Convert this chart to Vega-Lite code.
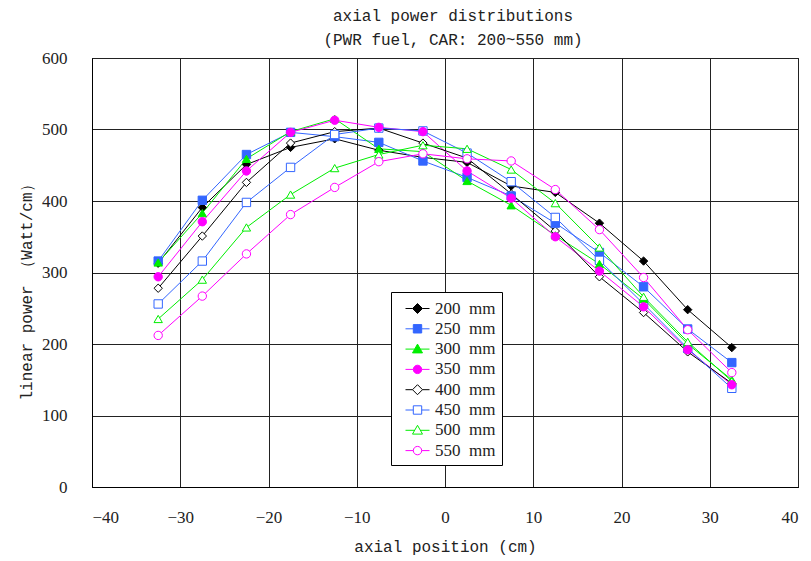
{
  "$schema": "https://vega.github.io/schema/vega-lite/v6.json",
  "width": 706,
  "height": 429,
  "autosize": {"type": "none"},
  "padding": {"left": 92, "top": 58, "right": 13, "bottom": 74},
  "background": "white",
  "title": {
    "text": ["axial power distributions", "(PWR fuel, CAR: 200~550 mm)"],
    "font": "Liberation Mono",
    "fontSize": 16,
    "fontWeight": "normal",
    "color": "#222",
    "lineHeight": 24,
    "anchor": "middle",
    "dx": 8,
    "offset": 1
  },
  "config": {
    "view": {"stroke": "#000", "strokeWidth": 1},
    "axis": {
      "grid": true,
      "gridColor": "#222",
      "gridOpacity": 1,
      "gridWidth": 1,
      "domainColor": "#000",
      "ticks": false,
      "labelFont": "Liberation Serif",
      "labelFontSize": 17,
      "labelColor": "#222",
      "titleFont": "Liberation Mono",
      "titleFontSize": 16,
      "titleFontWeight": "normal",
      "titleColor": "#222"
    },
    "legend": {
      "orient": "none",
      "legendX": 299,
      "legendY": 234,
      "padding": 6,
      "strokeColor": "#000",
      "fillColor": "white",
      "symbolSize": 400,
      "symbolOffset": 10,
      "symbolStrokeWidth": 1,
      "rowPadding": 1.3,
      "labelFont": "Liberation Serif",
      "labelFontSize": 17,
      "labelColor": "#222",
      "labelOffset": 7
    }
  },
  "data": {
    "values": [
      {"x": -32.5, "y": 313, "s": "200 mm"}, {"x": -27.5, "y": 391, "s": "200 mm"}, {"x": -22.5, "y": 451, "s": "200 mm"}, {"x": -17.5, "y": 475, "s": "200 mm"}, {"x": -12.5, "y": 487, "s": "200 mm"}, {"x": -7.5, "y": 471, "s": "200 mm"}, {"x": -2.5, "y": 461, "s": "200 mm"}, {"x": 2.5, "y": 454, "s": "200 mm"}, {"x": 7.5, "y": 421, "s": "200 mm"}, {"x": 12.5, "y": 412, "s": "200 mm"}, {"x": 17.5, "y": 369, "s": "200 mm"}, {"x": 22.5, "y": 316, "s": "200 mm"}, {"x": 27.5, "y": 248, "s": "200 mm"}, {"x": 32.5, "y": 195, "s": "200 mm"},
      {"x": -32.5, "y": 316, "s": "250 mm"}, {"x": -27.5, "y": 401, "s": "250 mm"}, {"x": -22.5, "y": 465, "s": "250 mm"}, {"x": -17.5, "y": 496, "s": "250 mm"}, {"x": -12.5, "y": 490, "s": "250 mm"}, {"x": -7.5, "y": 482, "s": "250 mm"}, {"x": -2.5, "y": 456, "s": "250 mm"}, {"x": 2.5, "y": 433, "s": "250 mm"}, {"x": 7.5, "y": 407, "s": "250 mm"}, {"x": 12.5, "y": 369, "s": "250 mm"}, {"x": 17.5, "y": 328, "s": "250 mm"}, {"x": 22.5, "y": 280, "s": "250 mm"}, {"x": 27.5, "y": 221, "s": "250 mm"}, {"x": 32.5, "y": 174, "s": "250 mm"},
      {"x": -32.5, "y": 314, "s": "300 mm"}, {"x": -27.5, "y": 383, "s": "300 mm"}, {"x": -22.5, "y": 459, "s": "300 mm"}, {"x": -17.5, "y": 497, "s": "300 mm"}, {"x": -12.5, "y": 515, "s": "300 mm"}, {"x": -7.5, "y": 473, "s": "300 mm"}, {"x": -2.5, "y": 469, "s": "300 mm"}, {"x": 2.5, "y": 428, "s": "300 mm"}, {"x": 7.5, "y": 394, "s": "300 mm"}, {"x": 12.5, "y": 352, "s": "300 mm"}, {"x": 17.5, "y": 312, "s": "300 mm"}, {"x": 22.5, "y": 263, "s": "300 mm"}, {"x": 27.5, "y": 200, "s": "300 mm"}, {"x": 32.5, "y": 150, "s": "300 mm"},
      {"x": -32.5, "y": 294, "s": "350 mm"}, {"x": -27.5, "y": 371, "s": "350 mm"}, {"x": -22.5, "y": 442, "s": "350 mm"}, {"x": -17.5, "y": 496, "s": "350 mm"}, {"x": -12.5, "y": 513, "s": "350 mm"}, {"x": -7.5, "y": 503, "s": "350 mm"}, {"x": -2.5, "y": 497, "s": "350 mm"}, {"x": 2.5, "y": 442, "s": "350 mm"}, {"x": 7.5, "y": 404, "s": "350 mm"}, {"x": 12.5, "y": 350, "s": "350 mm"}, {"x": 17.5, "y": 302, "s": "350 mm"}, {"x": 22.5, "y": 252, "s": "350 mm"}, {"x": 27.5, "y": 192, "s": "350 mm"}, {"x": 32.5, "y": 143, "s": "350 mm"},
      {"x": -32.5, "y": 278, "s": "400 mm"}, {"x": -27.5, "y": 351, "s": "400 mm"}, {"x": -22.5, "y": 426, "s": "400 mm"}, {"x": -17.5, "y": 481, "s": "400 mm"}, {"x": -12.5, "y": 497, "s": "400 mm"}, {"x": -7.5, "y": 502, "s": "400 mm"}, {"x": -2.5, "y": 481, "s": "400 mm"}, {"x": 2.5, "y": 460, "s": "400 mm"}, {"x": 7.5, "y": 410, "s": "400 mm"}, {"x": 12.5, "y": 358, "s": "400 mm"}, {"x": 17.5, "y": 294, "s": "400 mm"}, {"x": 22.5, "y": 244, "s": "400 mm"}, {"x": 27.5, "y": 189, "s": "400 mm"}, {"x": 32.5, "y": 145, "s": "400 mm"},
      {"x": -32.5, "y": 256, "s": "450 mm"}, {"x": -27.5, "y": 316, "s": "450 mm"}, {"x": -22.5, "y": 398, "s": "450 mm"}, {"x": -17.5, "y": 447, "s": "450 mm"}, {"x": -12.5, "y": 493, "s": "450 mm"}, {"x": -7.5, "y": 502, "s": "450 mm"}, {"x": -2.5, "y": 498, "s": "450 mm"}, {"x": 2.5, "y": 467, "s": "450 mm"}, {"x": 7.5, "y": 427, "s": "450 mm"}, {"x": 12.5, "y": 377, "s": "450 mm"}, {"x": 17.5, "y": 317, "s": "450 mm"}, {"x": 22.5, "y": 256, "s": "450 mm"}, {"x": 27.5, "y": 194, "s": "450 mm"}, {"x": 32.5, "y": 138, "s": "450 mm"},
      {"x": -32.5, "y": 235, "s": "500 mm"}, {"x": -27.5, "y": 290, "s": "500 mm"}, {"x": -22.5, "y": 363, "s": "500 mm"}, {"x": -17.5, "y": 409, "s": "500 mm"}, {"x": -12.5, "y": 446, "s": "500 mm"}, {"x": -7.5, "y": 465, "s": "500 mm"}, {"x": -2.5, "y": 478, "s": "500 mm"}, {"x": 2.5, "y": 473, "s": "500 mm"}, {"x": 7.5, "y": 444, "s": "500 mm"}, {"x": 12.5, "y": 397, "s": "500 mm"}, {"x": 17.5, "y": 335, "s": "500 mm"}, {"x": 22.5, "y": 266, "s": "500 mm"}, {"x": 27.5, "y": 203, "s": "500 mm"}, {"x": 32.5, "y": 148, "s": "500 mm"},
      {"x": -32.5, "y": 212, "s": "550 mm"}, {"x": -27.5, "y": 267, "s": "550 mm"}, {"x": -22.5, "y": 326, "s": "550 mm"}, {"x": -17.5, "y": 381, "s": "550 mm"}, {"x": -12.5, "y": 419, "s": "550 mm"}, {"x": -7.5, "y": 455, "s": "550 mm"}, {"x": -2.5, "y": 466, "s": "550 mm"}, {"x": 2.5, "y": 459, "s": "550 mm"}, {"x": 7.5, "y": 456, "s": "550 mm"}, {"x": 12.5, "y": 416, "s": "550 mm"}, {"x": 17.5, "y": 360, "s": "550 mm"}, {"x": 22.5, "y": 293, "s": "550 mm"}, {"x": 27.5, "y": 220, "s": "550 mm"}, {"x": 32.5, "y": 160, "s": "550 mm"}
    ]
  },
  "encoding": {
    "x": {
      "field": "x", "type": "quantitative",
      "scale": {"domain": [-40, 40], "nice": false, "zero": false},
      "axis": {"values": [-40, -30, -20, -10, 0, 10, 20, 30, 40], "title": "axial position (cm)", "labelPadding": 22, "titlePadding": 13}
    },
    "y": {
      "field": "y", "type": "quantitative",
      "scale": {"domain": [0, 600], "nice": false},
      "axis": {"values": [0, 100, 200, 300, 400, 500, 600], "title": "linear power （Watt/cm）", "labelPadding": 25, "titlePadding": 7, "titleY": 230}
    },
    "color": {
      "field": "s", "type": "nominal", "title": null,
      "scale": {
        "domain": ["200 mm", "250 mm", "300 mm", "350 mm", "400 mm", "450 mm", "500 mm", "550 mm"],
        "range": ["#000000", "#3366ff", "#00ee00", "#ff00ff", "#000000", "#3366ff", "#00ee00", "#ff00ff"]
      },
      "legend": {"labelExpr": "replace(datum.label, ' ', '\u00a0\u00a0')"}
    },
    "fill": {
      "field": "s", "type": "nominal", "title": null,
      "scale": {
        "domain": ["200 mm", "250 mm", "300 mm", "350 mm", "400 mm", "450 mm", "500 mm", "550 mm"],
        "range": ["#000000", "#3366ff", "#00ee00", "#ff00ff", "#ffffff", "#ffffff", "#ffffff", "#ffffff"]
      },
      "legend": {"labelExpr": "replace(datum.label, ' ', '\u00a0\u00a0')"}
    }
  },
  "layer": [
    {
      "mark": {"type": "line", "strokeWidth": 1, "fill": null},
      "encoding": {"detail": {"field": "s"}, "fill": {"value": null}}
    },
    {
      "transform": [{"filter": "datum.s == '200 mm' || datum.s == '400 mm'"}],
      "mark": {"type": "point", "shape": "diamond", "filled": false, "opacity": 1, "strokeWidth": 1, "size": 70}
    },
    {
      "transform": [{"filter": "datum.s == '250 mm' || datum.s == '450 mm'"}],
      "mark": {"type": "point", "shape": "square", "filled": false, "opacity": 1, "strokeWidth": 1, "size": 70}
    },
    {
      "transform": [{"filter": "datum.s == '300 mm' || datum.s == '500 mm'"}],
      "mark": {"type": "point", "shape": "triangle-up", "filled": false, "opacity": 1, "strokeWidth": 1, "size": 70}
    },
    {
      "transform": [{"filter": "datum.s == '350 mm' || datum.s == '550 mm'"}],
      "mark": {"type": "point", "shape": "circle", "filled": false, "opacity": 1, "strokeWidth": 1, "size": 70}
    },
    {
      "transform": [{"filter": "datum.x > 1000"}],
      "mark": {"type": "point", "filled": false, "opacity": 1, "strokeWidth": 1},
      "encoding": {
        "shape": {
          "field": "s", "type": "nominal", "title": null,
          "legend": {"labelExpr": "replace(datum.label, ' ', '\u00a0\u00a0')"},
          "scale": {
            "domain": ["200 mm", "250 mm", "300 mm", "350 mm", "400 mm", "450 mm", "500 mm", "550 mm"],
            "range": [
              "M-1.2,0L-0.5,0M0.5,0L1.2,0M0,-0.5L0.5,0L0,0.5L-0.5,0Z",
              "M-1.2,0L-0.42,0M0.42,0L1.2,0M-0.42,-0.42L0.42,-0.42L0.42,0.42L-0.42,0.42Z",
              "M-1.2,0L-0.28,0M0.28,0L1.2,0M0,-0.5L0.5,0.38L-0.5,0.38Z",
              "M-1.2,0L-0.42,0M0.42,0L1.2,0M-0.42,0A0.42,0.42,0,1,0,0.42,0A0.42,0.42,0,1,0,-0.42,0Z",
              "M-1.2,0L-0.5,0M0.5,0L1.2,0M0,-0.5L0.5,0L0,0.5L-0.5,0Z",
              "M-1.2,0L-0.42,0M0.42,0L1.2,0M-0.42,-0.42L0.42,-0.42L0.42,0.42L-0.42,0.42Z",
              "M-1.2,0L-0.28,0M0.28,0L1.2,0M0,-0.5L0.5,0.38L-0.5,0.38Z",
              "M-1.2,0L-0.42,0M0.42,0L1.2,0M-0.42,0A0.42,0.42,0,1,0,0.42,0A0.42,0.42,0,1,0,-0.42,0Z"
            ]
          }
        }
      }
    }
  ]
}
